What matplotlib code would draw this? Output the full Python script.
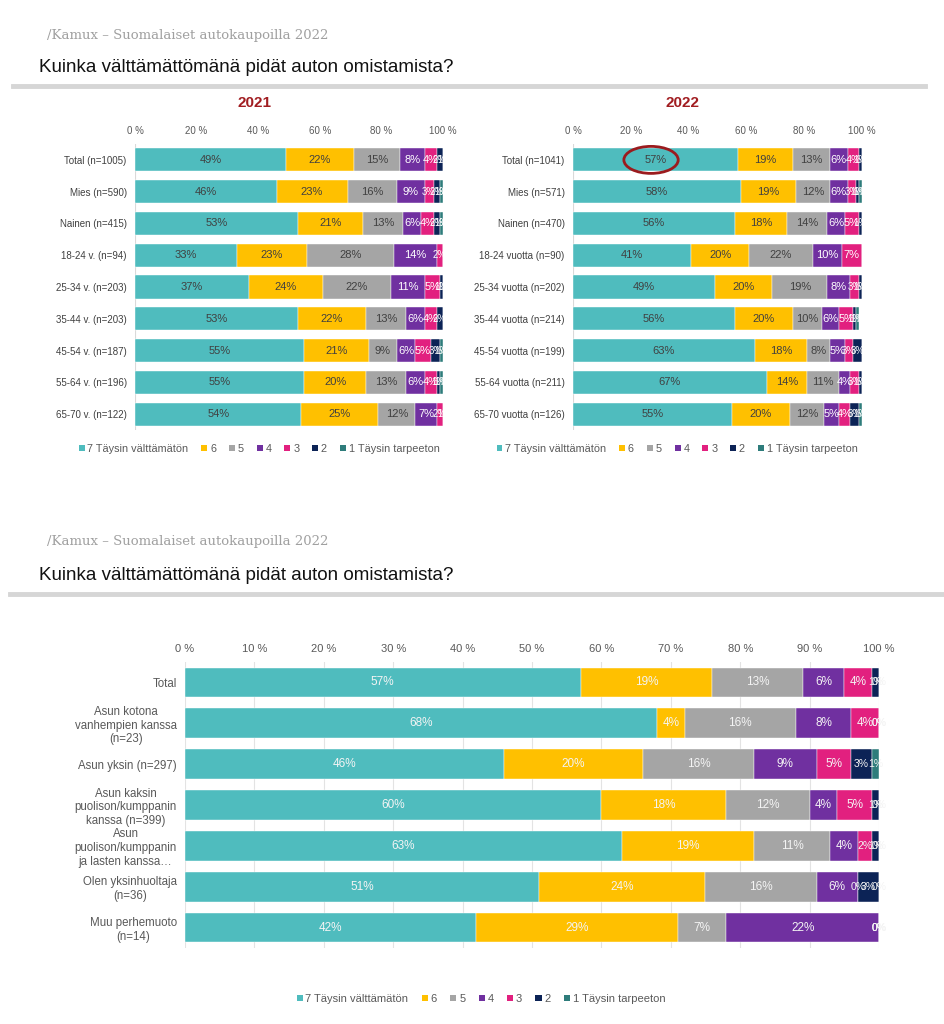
import matplotlib
matplotlib.use("Agg")
import matplotlib.pyplot as plt
from matplotlib.lines import Line2D
from matplotlib.patches import Ellipse, Patch
import numpy as np

plt.rcParams['font.family'] = ['Liberation Sans', 'DejaVu Sans']

series = ["7 Täysin välttämätön", "6", "5", "4", "3", "2", "1 Täysin tarpeeton"]
colors = ["#4FBCBE", "#FFC000", "#A5A5A5", "#7030A0", "#E2207F", "#0C2356", "#2E7C7B"]

cats_2021 = ["Total (n=1005)", "Mies (n=590)", "Nainen (n=415)", "18-24 v. (n=94)",
             "25-34 v. (n=203)", "35-44 v. (n=203)", "45-54 v. (n=187)",
             "55-64 v. (n=196)", "65-70 v. (n=122)"]
vals_2021 = [
    [49, 22, 15, 8, 4, 2, 1],
    [46, 23, 16, 9, 3, 2, 1],
    [53, 21, 13, 6, 4, 2, 1],
    [33, 23, 28, 14, 2, 0, 0],
    [37, 24, 22, 11, 5, 1, 1],
    [53, 22, 13, 6, 4, 2, 0],
    [55, 21, 9, 6, 5, 3, 1],
    [55, 20, 13, 6, 4, 1, 1],
    [54, 25, 12, 7, 2, 1, 0],
]

cats_2022 = ["Total (n=1041)", "Mies (n=571)", "Nainen (n=470)", "18-24 vuotta (n=90)",
             "25-34 vuotta (n=202)", "35-44 vuotta (n=214)", "45-54 vuotta (n=199)",
             "55-64 vuotta (n=211)", "65-70 vuotta (n=126)"]
vals_2022 = [
    [57, 19, 13, 6, 4, 1, 0],
    [58, 19, 12, 6, 3, 1, 1],
    [56, 18, 14, 6, 5, 1, 0],
    [41, 20, 22, 10, 7, 0, 0],
    [49, 20, 19, 8, 3, 1, 0],
    [56, 20, 10, 6, 5, 1, 1],
    [63, 18, 8, 5, 3, 3, 0],
    [67, 14, 11, 4, 3, 1, 0],
    [55, 20, 12, 5, 4, 3, 1],
]

cats_family = ["Total", "Asun kotona\nvanhempien kanssa\n(n=23)", "Asun yksin (n=297)",
               "Asun kaksin\npuolison/kumppanin\nkanssa (n=399)",
               "Asun\npuolison/kumppanin\nja lasten kanssa…",
               "Olen yksinhuoltaja\n(n=36)", "Muu perhemuoto\n(n=14)"]
vals_family = [
    [57, 19, 13, 6, 4, 1, 0],
    [68, 4, 16, 8, 4, 0, 0],
    [46, 20, 16, 9, 5, 3, 1],
    [60, 18, 12, 4, 5, 1, 0],
    [63, 19, 11, 4, 2, 1, 0],
    [51, 24, 16, 6, 0, 3, 0],
    [42, 29, 7, 22, 0, 0, 0],
]

W, H = 945, 1024
fig = plt.figure(figsize=(W / 100, H / 100), dpi=100)


def fx(px):
    return px / W


def fy(py):
    return 1 - py / H


def header(y_kamux, y_title, y_line, x0, x1):
    fig.text(fx(47), fy(y_kamux), "/Kamux – Suomalaiset autokaupoilla 2022",
             family="DejaVu Serif", color="#a0a0a0", fontsize=9.5, va="center")
    fig.text(fx(39), fy(y_title), "Kuinka välttämättömänä pidät auton omistamista?",
             color="#111111", fontsize=13.5, va="center")
    fig.add_artist(Line2D([fx(x0), fx(x1)], [fy(y_line), fy(y_line)],
                          color="#d6d6d6", lw=3.5, transform=fig.transFigure))


def stacked(ax, cats, vals, tick_step, fs_tick, fs_lab, fs_val, bottom_style):
    data = np.array(vals, dtype=float)
    y = np.arange(len(cats))
    left = np.zeros(len(cats))
    for j in range(len(series)):
        ax.barh(y, data[:, j], left=left, height=0.73, color=colors[j],
                edgecolor="white", linewidth=0.3, zorder=2)
        for i in range(len(cats)):
            v = data[i, j]
            if v <= 0 and not bottom_style:
                continue
            if bottom_style:
                c = "#f4f4f4"
            else:
                c = "#404040" if j < 3 else "white"
            # tiny segments get a smaller label, as they crowd at the bar end
            fs = fs_val if v >= 4 else fs_val - 1
            ax.text(left[i] + v / 2, y[i], f"{int(v)}%", ha="center", va="center",
                    fontsize=fs, color=c, zorder=3, clip_on=False)
        left += data[:, j]
    ax.set_xlim(0, 100)
    ax.set_ylim(len(cats) - 0.5, -0.5)
    ax.set_yticks(y)
    ax.set_yticklabels(cats, fontsize=fs_lab, color="#404040")
    ticks = np.arange(0, 101, tick_step)
    ax.set_xticks(ticks)
    ax.set_xticklabels([f"{t} %" for t in ticks], fontsize=fs_tick, color="#595959")
    ax.xaxis.tick_top()
    ax.tick_params(length=0, pad=6)
    for s in ax.spines.values():
        s.set_visible(False)
    if bottom_style:
        ax.grid(axis="x", color="#e3e3e3", lw=0.8, zorder=0)
        for t in ax.get_yticklabels():
            t.set_multialignment("center")
            t.set_color("#595959")
    else:
        ax.axvline(0, color="#d9d9d9", lw=0.8, zorder=1)


def legend(cx, cy, fs):
    handles = [Patch(facecolor=c, edgecolor="none") for c in colors]
    fig.legend(handles, series, loc="center", bbox_to_anchor=(fx(cx), fy(cy)),
               ncol=7, frameon=False, fontsize=fs, handlelength=0.55, handleheight=0.55,
               handletextpad=0.25, columnspacing=1.2, labelcolor="#595959")


# top part
header(35, 67, 86, 13, 925)
fig.text(fx(255), fy(103), "2021", color="#A11D21", fontsize=11, fontweight="bold",
         ha="center", va="center")
fig.text(fx(683), fy(103), "2022", color="#A11D21", fontsize=11, fontweight="bold",
         ha="center", va="center")

ax1 = fig.add_axes([fx(135), fy(430), fx(308), 286 / H])
stacked(ax1, cats_2021, vals_2021, 20, 7, 7, 8, False)
ax2 = fig.add_axes([fx(573), fy(430), fx(289), 286 / H])
stacked(ax2, cats_2022, vals_2022, 20, 7, 7, 8, False)
ax2.add_patch(Ellipse((27, 0), 18.8, 0.85, fill=False, edgecolor="#9B1B1E", lw=2, zorder=4))

legend(259, 449, 7.8)
legend(677, 449, 7.8)

# bottom part
header(541, 575, 594, 10, 945)
ax3 = fig.add_axes([fx(185), fy(948), fx(694), 286 / H])
stacked(ax3, cats_family, vals_family, 10, 8, 8.3, 8.5, True)
legend(481, 999, 8)

fig.savefig("out.png", dpi=100, facecolor="white")
